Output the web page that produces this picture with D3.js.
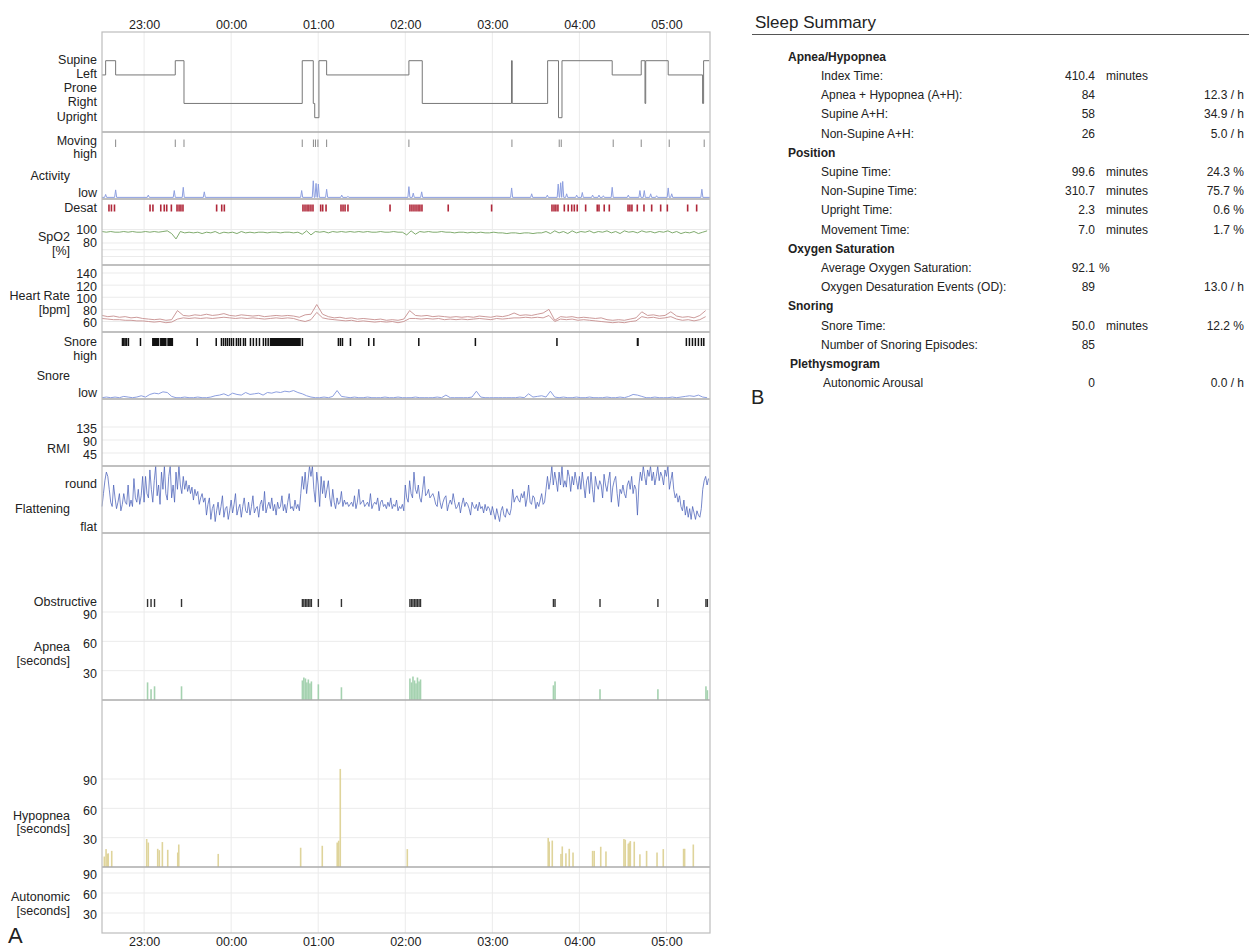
<!DOCTYPE html>
<html>
<head>
<meta charset="utf-8">
<script src="https://cdn.jsdelivr.net/npm/d3@7"></script>
<style>
  body { margin: 0; background: #fff; }
  svg text { font-family: "Liberation Sans", Arial, sans-serif; fill: #222; }
</style>
</head>
<body>
<svg id="chart" width="1249" height="949"></svg>
<script>
// All event times are minutes after 22:00 on the recording night.
const recStart = 31, recEnd = 450;

// Body position changes: [time, position]
const positionNames = ["Supine", "Left", "Prone", "Right", "Upright"];
const positionChanges = [
  [31, "Left"], [33.5, "Supine"], [40.4, "Left"], [81.5, "Supine"], [87.5, "Right"],
  [169, "Supine"], [176.6, "Right"], [177.6, "Upright"], [180.5, "Supine"], [185.8, "Left"],
  [242.5, "Supine"], [251.7, "Right"], [313.2, "Supine"], [313.7, "Right"], [338.1, "Supine"],
  [345.6, "Upright"], [348, "Supine"], [382.6, "Left"], [402.6, "Supine"], [405.2, "Right"],
  [405.7, "Supine"], [421.2, "Left"], [444.9, "Right"], [445.6, "Supine"], [449.5, "Supine"]
];

// Movement markers
const movingTimes = [40.4, 81.5, 87.5, 169, 176.7, 178.1, 179.8, 185.8, 242.5, 313.5,
  346.1, 347.5, 383.3, 402.6, 421.9, 446];

// Activity level (0 = low, 1 = high): resting level plus bursts [time, level]
const activityRest = 0.025;
const activityPeaks = [
  [33.5, 0.07], [40.4, 0.14], [62.9, 0.06], [80.8, 0.13], [87, 0.18], [101.5, 0.11],
  [168.6, 0.13], [176.6, 0.28], [178.5, 0.24], [180.1, 0.23], [185.8, 0.15], [196.2, 0.06],
  [200.5, 0.04], [242.5, 0.19], [245.5, 0.09], [251.3, 0.11], [313.3, 0.17], [327.1, 0.08],
  [337.9, 0.06], [345.4, 0.23], [347.1, 0.25], [348.5, 0.27], [351.2, 0.08], [358.1, 0.06],
  [362, 0.1], [369.1, 0.06], [373.5, 0.06], [376.5, 0.05], [382.6, 0.18], [393.7, 0.06],
  [401.7, 0.13], [404.7, 0.13], [409.1, 0.08], [413.2, 0.05], [421.2, 0.17], [423.6, 0.08],
  [444.4, 0.15]
];

// Oxygen desaturation events
const desatTimes = [35.8, 37.5, 39.6, 64.1, 66.1, 71.5, 73.9, 75.6, 78.8, 82.7, 84.1, 85.4,
  86.8, 110, 113.5, 115.3, 169.5, 170.9, 172.3, 173.6, 175, 176.4, 181.7, 183.1, 185.4, 195.7,
  197.1, 198.5, 200.5, 229.5, 243.2, 244.6, 246, 247.4, 248.8, 250.1, 251.5, 269.6, 299.5,
  341.1, 342.5, 343.8, 345.2, 349.6, 352.3, 354.7, 356.5, 358.5, 364.3, 372.3, 373.5, 377.1,
  380.6, 393.5, 394.8, 396.2, 399.9, 404.5, 409.8, 416, 420.6, 434.6, 440.8];

// SpO2 [%], one sample every 3 minutes from 22:31
const spo2Start = 31, spo2Step = 3;
const spo2 = [
  97, 96, 97, 96, 96, 97, 96, 97, 96, 96, 97, 96, 97, 96, 97,
  98, 94, 86, 97, 95,
  96, 95, 96, 94, 96, 95, 97, 94, 96, 95,
  96, 94, 97, 95, 96, 95, 96, 96, 95, 96, 96, 95, 96, 96, 95, 96,
  93, 98, 92, 97,
  96, 97, 95, 97, 96, 97, 96, 97, 96, 97, 96, 97, 96, 96, 97, 96, 96, 97, 96, 96,
  92, 98, 93, 97,
  96, 97, 96, 96, 97, 96, 96, 95, 96, 96, 95, 96, 95, 96, 95, 95, 96, 95, 95, 94,
  95, 95, 94, 95, 95, 94, 95, 95,
  97, 94, 98, 95, 97, 94, 98, 95, 97, 96, 98, 95, 97, 96, 98, 95, 97, 94, 98, 96,
  97, 95, 98, 96, 97, 95, 97, 96, 98, 95, 97, 94, 96, 95, 97, 94, 96, 98
];

// Heart rate [bpm], two traces, one sample every 4 minutes from 22:31
const hrStart = 31, hrStep = 4;
const hrUpper = [
  70, 68, 69, 67, 68, 66, 67, 65, 64, 63, 64, 62, 63, 78,
  70, 69, 71, 70, 72, 70, 71, 73, 70, 69, 71, 70, 69, 70, 68, 69, 70, 69, 70, 69,
  67, 71, 72, 88,
  72, 68, 66, 67, 65, 66, 64, 65, 64, 63, 64, 62, 63, 62, 64, 78,
  70, 69, 70, 68, 69, 68, 67, 68, 67, 68, 67, 69, 68, 67, 69, 68, 70, 74,
  70, 71, 70, 72, 74, 80,
  62, 68, 67, 68, 66, 67, 66, 65, 66, 63, 62, 63, 62, 64, 66, 76,
  70, 71, 69, 70, 76, 69, 67, 68, 66, 70, 78
];
const hrLower = [
  65, 64, 63, 63, 62, 62, 61, 61, 60, 59, 60, 58, 59, 64,
  66, 65, 66, 65, 66, 65, 66, 67, 66, 65, 66, 65, 66, 65, 64, 65, 66, 65, 66, 65,
  62, 60, 63, 75,
  66, 64, 63, 62, 61, 62, 60, 61, 60, 59, 60, 59, 60, 58, 60, 65,
  65, 64, 65, 64, 65, 63, 64, 63, 64, 63, 64, 65, 64, 63, 65, 64, 65, 66,
  66, 67, 66, 67, 66, 70,
  60, 64, 63, 64, 62, 63, 62, 61, 60, 59, 58, 59, 58, 60, 61, 68,
  66, 67, 65, 66, 68, 64, 62, 63, 61, 63, 68
];

// Snoring episodes: [start, end]
const snoreEpisodes = [
  [44.6, 45.2], [45.5, 46.1], [46.4, 46.9], [47.4, 47.9], [48.7, 49.2], [57, 57.5],
  [65.5, 70.5], [71, 75.5], [76, 80], [96.1, 96.6], [109.2, 109.7],
  [112.8, 113.3], [114.2, 114.7], [115.6, 116.1], [116.9, 117.5], [118.3, 118.8],
  [119.7, 120.2], [121.1, 121.6], [123.1, 123.6], [124.5, 125], [125.9, 126.4],
  [128, 128.6], [129.3, 129.9], [132.8, 133.4], [134.8, 135.4], [136.9, 137.5], [139, 139.6],
  [141.7, 142.6], [143.3, 144.2], [145, 146], [146.6, 168], [168.6, 169.5],
  [193.4, 193.9], [194.8, 195.3], [196.2, 196.7], [201.7, 202.2], [214.3, 214.8], [217.8, 218.3],
  [248.8, 249.3], [287.8, 288.4], [344, 344.8], [399.5, 400.9],
  [433.2, 433.8], [435.3, 435.9], [437.4, 438], [439.4, 440], [441.5, 442.1], [443.6, 444.2],
  [445.2, 445.8]
];

// Snore loudness (0 = low, 1 = high), one sample every 3 minutes from 22:31
const snoreStart = 31, snoreStep = 3;
const snoreLevel = [
  0.02, 0.03, 0.02, 0.03, 0.02, 0.04, 0.03, 0.02, 0.03, 0.05, 0.03,
  0.07, 0.09, 0.08, 0.11, 0.10, 0.04,
  0.02, 0.02, 0.03, 0.02, 0.02, 0.03, 0.02, 0.02, 0.03, 0.05,
  0.06, 0.08, 0.05, 0.09, 0.07, 0.06, 0.10, 0.07, 0.08, 0.09, 0.06, 0.10, 0.09, 0.11, 0.10,
  0.12, 0.11, 0.13, 0.10,
  0.08, 0.05, 0.03, 0.02, 0.02, 0.03, 0.02, 0.04,
  0.13, 0.04,
  0.03, 0.02, 0.03, 0.02, 0.02, 0.03, 0.02, 0.02, 0.02, 0.03, 0.02, 0.02, 0.03, 0.02, 0.02,
  0.02, 0.03, 0.02, 0.02, 0.02, 0.02, 0.03, 0.02,
  0.06,
  0.02, 0.02, 0.02, 0.02, 0.02, 0.03,
  0.12,
  0.03, 0.02, 0.02, 0.02, 0.02, 0.02, 0.02, 0.02, 0.02, 0.03, 0.02,
  0.08,
  0.03, 0.04, 0.05, 0.03,
  0.12,
  0.03, 0.02, 0.03, 0.02, 0.02, 0.03, 0.02, 0.02, 0.03, 0.02, 0.02, 0.02, 0.03, 0.02, 0.02,
  0.03, 0.02, 0.04,
  0.07, 0.06, 0.04,
  0.02, 0.02, 0.03, 0.02, 0.02, 0.02, 0.03, 0.02, 0.03,
  0.04, 0.05, 0.04, 0.06,
  0.03, 0.02
];

// Inspiratory flattening (0 = flat, 1 = round), one sample per minute from 22:31
const flatStart = 31, flatStep = 1;
const flattening = [
  0.5, 0.8, 1.1, 1.3, 1.2,
  0.9, 0.6, 0.5, 1.0, 0.7, 0.45, 0.6, 0.8, 0.4, 0.55, 0.8, 0.6, 0.55, 1.0, 0.5, 0.65, 0.5,
  1.15, 0.7, 0.6, 0.9, 0.55, 0.75, 1.2, 0.6,
  1.2, 0.8, 0.7, 1.35, 0.9, 0.6, 1.1, 1.44, 0.75, 1.0, 0.55, 1.3, 0.9, 1.44, 0.8, 0.65, 1.2,
  1.44, 0.7, 1.0, 0.6, 1.3, 0.9, 1.44, 1.0, 0.8, 1.2, 0.9,
  1.1, 0.85, 1.0, 0.8, 0.95, 0.65, 0.9, 0.75, 0.85, 0.55, 0.7, 0.8, 0.6, 0.7,
  0.3, 0.55, 0.7, 0.2, 0.45, 0.55, 0.15, 0.4, 0.6, 0.3, 0.5, 0.75, 0.25, 0.45, 0.5, 0.2,
  0.4, 0.65, 0.35, 0.55, 0.8, 0.3, 0.45, 0.55, 0.25, 0.5, 0.7, 0.4, 0.35, 0.6, 0.3, 0.5,
  0.75, 0.35, 0.45, 0.5, 0.25, 0.55, 0.65, 0.4, 0.85, 0.35, 0.5, 0.6, 0.45, 0.7, 0.4, 0.55,
  0.3, 0.6, 0.45, 0.5, 0.75, 0.4, 0.55, 0.35, 0.6, 0.8, 0.45, 0.5, 0.4, 0.65, 0.45, 0.55, 0.4,
  0.8, 1.2, 0.9, 1.3, 0.8, 1.1, 1.44, 1.2, 1.44, 0.9, 0.6, 1.3, 1.0, 0.5, 1.2, 0.8, 1.1, 0.7,
  0.9, 1.1, 0.7,
  0.5, 0.9, 0.6, 0.45, 0.7, 0.55, 0.6, 0.85, 0.5, 0.65, 0.55, 0.6, 0.5, 0.55, 0.6, 0.5, 0.75,
  0.45, 0.6, 0.9, 0.55, 0.6, 0.65, 0.5, 0.55, 0.6, 0.5, 0.8, 0.45, 0.55, 0.6, 0.55, 0.7, 0.4,
  0.6, 0.65, 0.5, 0.55, 0.45, 0.6, 0.5, 0.7, 0.45, 0.55, 0.5, 0.65, 0.4, 0.5, 0.45, 0.55, 0.4,
  1.0, 0.7, 0.6, 1.1, 0.8, 0.7, 1.3, 0.9, 0.8, 1.0, 0.7, 0.6, 0.9, 1.2, 0.75, 0.8, 0.9, 0.7,
  0.75, 0.8,
  0.7, 0.55, 0.5, 0.85, 0.6, 0.45, 0.6, 0.7, 0.75, 0.4, 0.55, 0.65, 0.55, 0.8, 0.6, 0.45, 0.5,
  0.6, 0.35, 0.55, 0.7, 0.5, 0.6, 0.55, 0.45, 0.3, 0.6, 0.5, 0.45, 0.55, 0.4, 0.6, 0.45, 0.5,
  0.35, 0.55, 0.4, 0.5, 0.45,
  0.3, 0.5, 0.35, 0.2, 0.45, 0.3, 0.15, 0.4, 0.5, 0.3, 0.25, 0.45, 0.35, 0.3, 0.45,
  0.9, 0.6, 0.7, 0.75, 0.65, 0.6, 0.8, 0.7, 0.85, 0.5, 0.7, 1.0, 0.6, 0.55, 0.75, 0.7, 0.45,
  0.6, 0.5, 0.65, 0.8, 0.55, 0.6, 0.9,
  1.2, 0.9, 1.1, 1.44, 1.0, 1.3, 1.1, 0.85, 1.3, 1.0, 1.44, 0.95, 1.1, 0.95, 1.35, 1.2, 0.85,
  1.2, 1.0, 1.3, 1.1, 0.9, 1.2,
  0.9, 1.3, 1.0, 0.7, 1.1, 1.2, 0.8, 1.3, 0.9, 0.6, 1.2, 1.0, 0.9, 1.1, 1.0, 0.7, 1.25, 1.0,
  0.85, 1.1, 1.3, 0.6, 0.95, 1.1, 1.2, 0.8, 0.5, 0.9, 0.8, 1.0, 0.8, 0.7, 1.0, 1.1, 0.9, 1.2,
  0.8, 1.0, 0.9, 0.3, 1.0,
  1.3, 1.1, 1.44, 1.2, 1.0, 1.35, 1.2, 1.44, 1.1, 1.3, 1.0, 1.2, 1.44, 1.1, 1.3, 1.2, 1.0,
  1.35, 1.2, 1.44, 0.9, 1.1, 1.3,
  0.9, 0.7, 0.8, 0.6, 0.75, 0.5, 0.4, 0.65, 0.3, 0.5, 0.25, 0.45, 0.2, 0.5, 0.35, 0.2, 0.4,
  0.3, 0.25, 0.45,
  0.9, 1.1, 1.2, 1.0, 1.15
];

// Obstructive apnea events: [time, duration in seconds]
const apneaEvents = [
  [62.4, 18], [64.8, 11], [67.2, 14], [85.8, 14],
  [169.1, 20], [170.1, 23], [171.2, 22], [172.2, 18], [173.2, 21], [174.3, 17], [175.3, 19],
  [180.1, 16], [196, 13],
  [243.2, 22], [244.3, 18], [245.3, 24], [246.4, 20], [247.4, 17], [248.4, 23], [249.5, 19],
  [250.5, 21],
  [342.1, 15], [343.2, 19], [374.2, 11], [414.1, 11], [447.2, 14], [448.2, 10]
];

// Hypopnea events: [time, duration in seconds]
const hypopneaEvents = [
  [32.6, 10.7], [33.8, 18.3], [34.7, 13.4], [35.3, 14], [37.7, 16.5], [61.8, 28.6],
  [62.9, 25], [69.4, 18.6], [70.5, 17.2], [72.6, 25.5], [76.3, 17.6], [83.2, 14.8],
  [83.9, 23], [111.1, 13.4], [167.9, 19.7], [182.8, 21.7], [193.1, 25], [194.1, 26.9],
  [195.2, 100.3], [241.4, 18.3], [338.5, 29.7], [339.2, 26], [341.3, 27], [347.3, 13.4],
  [348.2, 21], [350.7, 14], [353, 18.6], [355.6, 14.8], [369.1, 16.5], [370.2, 16.5],
  [374.7, 20.7], [378.3, 15.9], [390.7, 28.6], [391.6, 27.9], [393.7, 23.8], [394.4, 25],
  [395.1, 26.5], [397.8, 25.9], [401.7, 13], [406.3, 16.5], [413.5, 14.8], [417.8, 18.3],
  [431.8, 18.6], [432.5, 18.6], [438.5, 23]
];

// Autonomic arousals: none recorded
const autonomicEvents = [];

// Axis tick values per panel
const spo2Ticks = [100, 80];
const spo2Grid = [100, 80, 70, 60];
const hrTicks = [140, 120, 100, 80, 60];
const rmiTicks = [135, 90, 45];
const secondsTicks = [90, 60, 30];

// Sleep summary table
const summarySections = ["Apnea/Hypopnea", "Position", "Oxygen Saturation", "Snoring", "Plethysmogram"];
const summaryRows = [
  { section: 0, label: "Index Time:", value: "410.4", unit: "minutes", rate: "" },
  { section: 0, label: "Apnea + Hypopnea (A+H):", value: "84", unit: "", rate: "12.3 / h" },
  { section: 0, label: "Supine A+H:", value: "58", unit: "", rate: "34.9 / h" },
  { section: 0, label: "Non-Supine A+H:", value: "26", unit: "", rate: "5.0 / h" },
  { section: 1, label: "Supine Time:", value: "99.6", unit: "minutes", rate: "24.3 %" },
  { section: 1, label: "Non-Supine Time:", value: "310.7", unit: "minutes", rate: "75.7 %" },
  { section: 1, label: "Upright Time:", value: "2.3", unit: "minutes", rate: "0.6 %" },
  { section: 1, label: "Movement Time:", value: "7.0", unit: "minutes", rate: "1.7 %" },
  { section: 2, label: "Average Oxygen Saturation:", value: "92.1", unit: "%", rate: "" },
  { section: 2, label: "Oxygen Desaturation Events (OD):", value: "89", unit: "", rate: "13.0 / h" },
  { section: 3, label: "Snore Time:", value: "50.0", unit: "minutes", rate: "12.2 %" },
  { section: 3, label: "Number of Snoring Episodes:", value: "85", unit: "", rate: "" },
  { section: 4, label: "Autonomic Arousal", value: "0", unit: "", rate: "0.0 / h" }
];

// ---------------------------------------------------------------------------
const svg = d3.select("#chart");
const base = new Date(2021, 0, 1, 22, 0, 0);
const toDate = m => new Date(base.getTime() + m * 60000);

const plotL = 102, plotR = 710, plotT = 32, plotB = 933;
const x = d3.scaleTime().domain([toDate(recStart), toDate(recEnd)]).range([plotL, plotR]);
const xm = m => x(toDate(m));

const yPos = d3.scalePoint().domain(positionNames).range([60.7, 117.7]);
const yAct = d3.scaleLinear().domain([0, 1]).range([199, 134]);
const ySpo2 = d3.scaleLinear().domain([60, 100]).range([256.5, 229.5]);
const yHr = d3.scaleLinear().domain([60, 140]).range([321.5, 273]);
const ySnore = d3.scaleLinear().domain([0, 1]).range([399, 334]);
const yRmi = d3.scaleLinear().domain([0, 135]).range([466, 427]);
const yFlat = d3.scaleLinear().domain([0, 1]).range([528, 485]);
const yApnea = d3.scaleLinear().domain([0, 90]).range([700, 612]);
const yHyp = d3.scaleLinear().domain([0, 90]).range([867, 779]);
const yAuto = d3.scaleLinear().domain([0, 90]).range([933, 873]);

const gridColor = "#ebebeb";
const hours = d3.timeHour.range(toDate(recStart), toDate(recEnd));

// vertical hour gridlines
svg.append("g").selectAll("line").data(hours).join("line")
  .attr("x1", d => x(d)).attr("x2", d => x(d))
  .attr("y1", plotT).attr("y2", plotB)
  .attr("stroke", gridColor).attr("stroke-width", 1);

// horizontal gridlines
function hGrid(scale, values) {
  svg.append("g").selectAll("line").data(values).join("line")
    .attr("x1", plotL).attr("x2", plotR)
    .attr("y1", d => scale(d)).attr("y2", d => scale(d))
    .attr("stroke", gridColor).attr("stroke-width", 1);
}
hGrid(ySpo2, spo2Grid);
hGrid(yHr, hrTicks);
hGrid(yRmi, rmiTicks);
hGrid(yApnea, secondsTicks);
hGrid(yHyp, secondsTicks);
hGrid(yAuto, secondsTicks);

// text helpers
function txt(xp, yp, s, opts = {}) {
  return svg.append("text")
    .attr("x", xp).attr("y", yp)
    .attr("dy", "0.35em")
    .attr("text-anchor", opts.anchor || "end")
    .style("font-size", (opts.size || 12.5) + "px")
    .style("font-weight", opts.bold ? "bold" : null)
    .text(s);
}
const tickX = 97, nameX = 70;

// panel axes (left value labels)
function leftAxis(scale, values, off = 1.5) {
  values.forEach(v => txt(tickX, scale(v) + off, String(v)));
}
leftAxis(ySpo2, spo2Ticks, 0);
leftAxis(yHr, hrTicks, 1);
leftAxis(yRmi, rmiTicks, 2);
leftAxis(yApnea, secondsTicks, 2.5);
leftAxis(yHyp, secondsTicks, 2);
leftAxis(yAuto, secondsTicks, 2);

// category labels
positionNames.forEach(p => txt(tickX, yPos(p) - 1.5, p));
txt(tickX, 140.5, "Moving");
txt(tickX, 154, "high");
txt(nameX, 176, "Activity");
txt(tickX, 193, "low");
txt(tickX, 207.5, "Desat");
txt(nameX, 237, "SpO2");
txt(nameX, 251, "[%]");
txt(nameX, 296, "Heart Rate");
txt(nameX, 310, "[bpm]");
txt(tickX, 342, "Snore");
txt(tickX, 355.5, "high");
txt(nameX, 376, "Snore");
txt(tickX, 393, "low");
txt(nameX, 449, "RMI");
txt(tickX, 484, "round");
txt(nameX, 509, "Flattening");
txt(tickX, 527, "flat");
txt(tickX, 602, "Obstructive");
txt(nameX, 647, "Apnea");
txt(nameX, 661, "[seconds]");
txt(nameX, 816, "Hypopnea");
txt(nameX, 829, "[seconds]");
txt(nameX, 897, "Autonomic");
txt(nameX, 911, "[seconds]");

// time axes
const fmt = d3.timeFormat("%H:%M");
function styleAxis(g) {
  g.select(".domain").remove();
  g.selectAll("text").style("font-size", "12.5px").attr("fill", "#222")
    .style("font-family", '"Liberation Sans", Arial, sans-serif');
}
svg.append("g").attr("transform", `translate(0,${plotT - 2})`)
  .call(d3.axisTop(x).tickValues(hours).tickFormat(fmt).tickSize(0).tickPadding(1))
  .call(styleAxis);
svg.append("g").attr("transform", `translate(0,${plotB + 2})`)
  .call(d3.axisBottom(x).tickValues(hours).tickFormat(fmt).tickSize(0).tickPadding(2))
  .call(styleAxis);

// ---- body position
const posLine = d3.line().curve(d3.curveStepAfter)
  .x(d => xm(d[0])).y(d => yPos(d[1]));
svg.append("path").datum(positionChanges).attr("d", posLine)
  .attr("fill", "none").attr("stroke", "#777").attr("stroke-width", 1);

// ---- movement markers
svg.append("g").selectAll("line").data(movingTimes).join("line")
  .attr("x1", d => xm(d)).attr("x2", d => xm(d))
  .attr("y1", yAct(0.915)).attr("y2", yAct(0.8))
  .attr("stroke", "#8a8a8a").attr("stroke-width", 1);

// ---- activity trace: rest level broken by short bursts
const actPts = [[recStart, activityRest]];
activityPeaks.forEach(([t, v]) => {
  actPts.push([t - 0.7, activityRest], [t, v], [t + 0.7, activityRest]);
});
actPts.push([recEnd, activityRest]);
svg.append("path").datum(actPts)
  .attr("d", d3.line().x(d => xm(d[0])).y(d => yAct(d[1])))
  .attr("fill", "none").attr("stroke", "#8d9fe0").attr("stroke-width", 1);

// ---- desaturation events
svg.append("g").selectAll("rect").data(desatTimes).join("rect")
  .attr("x", d => xm(d) - 0.8).attr("width", 1.6)
  .attr("y", 204.5).attr("height", 7)
  .attr("fill", "#b0283a");

// ---- SpO2
svg.append("path").datum(spo2)
  .attr("d", d3.line().x((d, i) => xm(spo2Start + i * spo2Step)).y(d => ySpo2(d)))
  .attr("fill", "none").attr("stroke", "#72a25e").attr("stroke-width", 0.9);

// ---- heart rate
[hrUpper, hrLower].forEach(series => {
  svg.append("path").datum(series)
    .attr("d", d3.line().x((d, i) => xm(hrStart + i * hrStep)).y(d => yHr(d)))
    .attr("fill", "none").attr("stroke", "#c68e8e").attr("stroke-width", 0.9);
});

// ---- snoring episodes
svg.append("g").selectAll("rect").data(snoreEpisodes).join("rect")
  .attr("x", d => xm(d[0]))
  .attr("width", d => Math.max(1.5, xm(d[1]) - xm(d[0])))
  .attr("y", 338).attr("height", 8)
  .attr("fill", "#111");

// ---- snore loudness
svg.append("path").datum(snoreLevel)
  .attr("d", d3.line().x((d, i) => xm(snoreStart + i * snoreStep)).y(d => ySnore(d)))
  .attr("fill", "none").attr("stroke", "#8d9fe0").attr("stroke-width", 1);

// ---- flattening
svg.append("path").datum(flattening)
  .attr("d", d3.line().x((d, i) => xm(flatStart + i * flatStep)).y(d => yFlat(d)))
  .attr("fill", "none").attr("stroke", "#4a60b8").attr("stroke-width", 0.75);

// ---- obstructive apnea markers and durations
svg.append("g").selectAll("rect").data(apneaEvents).join("rect")
  .attr("x", d => xm(d[0]) - 0.7).attr("width", 1.4)
  .attr("y", 599).attr("height", 8)
  .attr("fill", "#333");
svg.append("g").selectAll("rect").data(apneaEvents).join("rect")
  .attr("x", d => xm(d[0]) - 0.8).attr("width", 1.6)
  .attr("y", d => yApnea(d[1])).attr("height", d => yApnea(0) - yApnea(d[1]))
  .attr("fill", "#a5d2b0");

// ---- hypopnea durations
svg.append("g").selectAll("rect").data(hypopneaEvents).join("rect")
  .attr("x", d => xm(d[0]) - 0.8).attr("width", 1.6)
  .attr("y", d => yHyp(d[1])).attr("height", d => yHyp(0) - yHyp(d[1]))
  .attr("fill", "#dfd49b");

// ---- autonomic arousals
svg.append("g").selectAll("rect").data(autonomicEvents).join("rect")
  .attr("x", d => xm(d[0]) - 0.8).attr("width", 1.6)
  .attr("y", d => yAuto(d[1])).attr("height", d => yAuto(0) - yAuto(d[1]))
  .attr("fill", "#c9a0d0");

// panel separators and frame
[132, 199, 265, 332, 399, 466, 533, 700, 867].forEach(yv => {
  svg.append("line").attr("x1", plotL).attr("x2", plotR).attr("y1", yv).attr("y2", yv)
    .attr("stroke", "#ababab").attr("stroke-width", 1.3);
});
svg.append("rect").attr("x", plotL).attr("y", plotT)
  .attr("width", plotR - plotL).attr("height", plotB - plotT)
  .attr("fill", "none").attr("stroke", "#bdbdbd").attr("stroke-width", 1.2);

// panel letters
txt(8, 935, "A", { anchor: "start", size: 22 });
txt(751, 397, "B", { anchor: "start", size: 20 });

// ---- sleep summary
txt(755, 22, "Sleep Summary", { anchor: "start", size: 17 });
svg.append("line").attr("x1", 752).attr("x2", 1249).attr("y1", 34.5).attr("y2", 34.5)
  .attr("stroke", "#555").attr("stroke-width", 1);

let row = 0;
const rowY = r => 56.5 + r * 19.2;
summarySections.forEach((sec, si) => {
  const shift = si === 4 ? 2 : 0;
  txt(788 + shift, rowY(row), sec, { anchor: "start", size: 12, bold: true });
  row++;
  summaryRows.filter(r => r.section === si).forEach(r => {
    const yv = rowY(row);
    txt(821 + shift, yv, r.label, { anchor: "start", size: 12 });
    txt(1095, yv, r.value, { anchor: "end", size: 12 });
    if (r.unit) txt(r.unit === "%" ? 1099 : 1106, yv, r.unit, { anchor: "start", size: 12 });
    if (r.rate) txt(1244, yv, r.rate, { anchor: "end", size: 12 });
    row++;
  });
});
</script>
</body>
</html>
